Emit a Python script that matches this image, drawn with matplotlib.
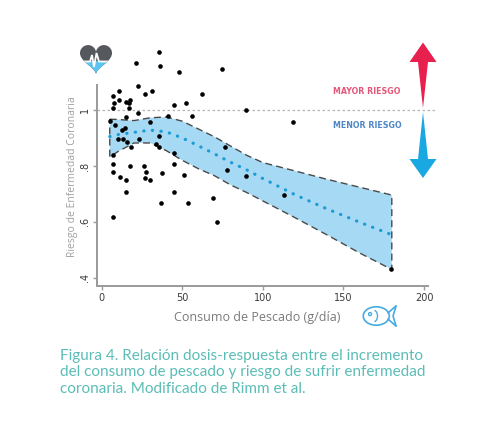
import numpy as np
import matplotlib
matplotlib.use("Agg")
import matplotlib.pyplot as plt
from matplotlib.patches import Polygon, Ellipse, Circle, Rectangle, Arc

# ---------------- data ----------------
x_points = [35.7, 21.1, 36.2, 47.8, 74.8, 22.5, 10.9, 7.0, 26.9, 31.4, 62.4, 10.7, 7.4, 15.1,
            17.7, 17.0, 7.0, 16.7, 44.7, 52.3, 22.5, 15.1, 41.3, 56.0, 89.5, 118.5, 5.3, 8.1,
            30.0, 12.8, 14.6, 10.1, 15.7, 23.1, 35.7, 18.4, 33.9, 35.7, 7.2, 44.9, 76.7, 7.2,
            17.7, 26.2, 7.0, 27.5, 37.4, 45.0, 11.5, 15.3, 27.0, 30.0, 50.9, 77.5, 89.7, 15.3,
            45.0, 69.0, 37.0, 53.7, 7.2, 71.7, 113.4, 179.5, 13.0]
y_points = [1.207, 1.167, 1.158, 1.137, 1.148, 1.087, 1.067, 1.050, 1.057, 1.068, 1.057, 1.037,
            1.026, 1.029, 1.036, 1.025, 1.006, 1.006, 1.017, 1.026, 0.988, 0.975, 0.978, 0.978,
            0.999, 0.957, 0.961, 0.948, 0.957, 0.929, 0.937, 0.898, 0.887, 0.896, 0.907, 0.869,
            0.877, 0.867, 0.839, 0.848, 0.867, 0.807, 0.798, 0.798, 0.777, 0.777, 0.776, 0.808,
            0.760, 0.748, 0.758, 0.748, 0.767, 0.787, 0.765, 0.707, 0.707, 0.687, 0.668, 0.668,
            0.618, 0.598, 0.696, 0.430, 0.895]

x_curve = [5, 10, 20, 30, 40, 50, 60, 70, 80, 90, 100, 120, 140, 160, 180]
fit = [0.905, 0.912, 0.920, 0.928, 0.922, 0.900, 0.872, 0.843, 0.813, 0.786, 0.755, 0.697, 0.646, 0.599, 0.554]
upper = [0.967, 0.966, 0.962, 0.972, 0.975, 0.960, 0.932, 0.904, 0.871, 0.838, 0.812, 0.782, 0.752, 0.724, 0.696]
lower = [0.832, 0.851, 0.882, 0.882, 0.855, 0.820, 0.790, 0.765, 0.732, 0.705, 0.675, 0.615, 0.553, 0.489, 0.430]

x_ticks = [0, 50, 100, 150, 200]
y_ticks = [0.4, 0.6, 0.8, 1.0]
y_tick_labels = [".4", ".6", ".8", "1"]

W, H = 500, 440
fig = plt.figure(figsize=(5, 4.4), dpi=100)
fig.patch.set_facecolor("white")

def fx(px):
    return px / W

def fy(py):
    return 1 - py / H

# axes placement (pixels)
left_px, right_px, top_px, bot_px = 96.7, 440, 40, 286
ax = fig.add_axes([fx(left_px), fy(bot_px), (right_px - left_px) / W, (bot_px - top_px) / H])
ax.set_xlim(-3.1, 209.9)
ax.set_ylim(0.371, 1.25)
ax.set_facecolor("none")

# band
poly_x = list(x_curve) + list(x_curve[::-1])
poly_y = list(upper) + list(lower[::-1])
ax.fill(poly_x, poly_y, color="#A6D9F3", zorder=1, lw=0)
ax.add_patch(Polygon(np.column_stack([poly_x, poly_y]), closed=True, fill=False,
                     ec="#4a4a4a", lw=1.0, ls=(0, (5, 3)), zorder=2))

# reference line
ax.plot([-3.1, 206.8], [1, 1], color="#b5b5b5", lw=0.9, ls=(0, (2, 2)), zorder=1, clip_on=False)

# fit line
ax.plot(x_curve, fit, color="#1E9BD7", lw=2.3, ls=(0, (0.1, 2.6)),
        dash_capstyle="round", zorder=4)

# scatter
ax.scatter(x_points, y_points, s=11, color="black", zorder=5, clip_on=False, lw=0)

# spines
for s in ["top", "right"]:
    ax.spines[s].set_visible(False)
for s in ["left", "bottom"]:
    ax.spines[s].set_color("#9a9a9a")
    ax.spines[s].set_linewidth(1.4)
ax.spines["left"].set_bounds(0.371, 1.089)
ax.spines["bottom"].set_bounds(-3.1, 202.5)

ax.set_xticks(x_ticks)
ax.set_xticklabels([str(t) for t in x_ticks])
ax.set_yticks(y_ticks)
ax.set_yticklabels(y_tick_labels, rotation=90, va="center")
ax.tick_params(axis="both", colors="#9a9a9a", length=3, width=1.0, labelsize=7,
               labelcolor="#3a3a3a", pad=2)

fig.text(fx(257), fy(317), "Consumo de Pescado (g/día)", ha="center", va="center",
         fontsize=9, color="#7a7a7a", family="Open Sans")
fig.text(fx(72.5), fy(177), "Riesgo de Enfermedad Coronaria", ha="center", va="center",
         rotation=90, fontsize=7.5, color="#a0a0a0", family="Open Sans")

# risk labels
fig.text(fx(367), fy(92), "MAYOR RIESGO", ha="center", va="center", fontsize=5.7,
         color="#E4577A", fontweight="bold", family="DejaVu Sans")
fig.text(fx(367), fy(125.7), "MENOR RIESGO", ha="center", va="center", fontsize=5.7,
         color="#4F86C6", fontweight="bold", family="DejaVu Sans")

# arrows (decoration, figure pixel space)
def pxpoly(pts, color):
    p = Polygon([(fx(a), fy(b)) for a, b in pts], closed=True, transform=fig.transFigure,
                fc=color, ec="none")
    fig.patches.append(p)

cx = 423
pxpoly([(cx, 108), (cx - 5, 62), (cx - 13.5, 62), (cx, 42.5), (cx + 13.5, 62), (cx + 5, 62)], "#E8204E")
pxpoly([(cx, 112), (cx - 5, 159), (cx - 13.5, 159), (cx, 178), (cx + 13.5, 159), (cx + 5, 159)], "#1AA8E2")

# heart icon
hax = fig.add_axes([fx(79), fy(75), 34 / W, 31 / H])
hax.axis("off")
t = np.linspace(0, 2 * np.pi, 300)
hx = 16 * np.sin(t) ** 3
hy = 13 * np.cos(t) - 5 * np.cos(2 * t) - 2 * np.cos(3 * t) - np.cos(4 * t)
hax.set_xlim(-17, 17)
hax.set_ylim(-18, 13)
heart = Polygon(np.column_stack([hx, hy]), closed=True, fc="#55585c", ec="none")
hax.add_patch(heart)
blue = Rectangle((-20, -20), 40, 15.5, fc="#5EC3EE", ec="none")
hax.add_patch(blue)
blue.set_clip_path(heart)
ecg_x = [-17, -6, -4, -2, 0.5, 3, 5, 17]
ecg_y = [-4.5, -4.5, 2, -10, 4, -4.5, -4.5, -4.5]
ln, = hax.plot(ecg_x, ecg_y, color="white", lw=1.3, solid_joinstyle="miter")
ln.set_clip_path(heart)

# fish icon
fax = fig.add_axes([fx(362), fy(330), 36 / W, 28 / H])
fax.axis("off")
fax.set_xlim(-1.3, 1.6)
fax.set_ylim(-1.1, 1.1)
fc = "#45ACE2"
fax.add_patch(Ellipse((-0.15, 0), 2.1, 1.45, fill=False, ec=fc, lw=1.2))
fax.plot([0.8, 1.45, 1.2, 1.45, 0.8], [0.25, 0.8, 0.0, -0.8, -0.25], color=fc, lw=1.2)
fax.add_patch(Circle((-0.65, 0.15), 0.12, fill=False, ec=fc, lw=1.0))
fax.add_patch(Arc((-0.45, 0), 0.8, 1.0, theta1=-70, theta2=70, ec=fc, lw=1.0))

# caption
cap = ("Figura 4. Relación dosis-respuesta entre el incremento\n"
       "del consumo de pescado y riesgo de sufrir enfermedad\n"
       "coronaria. Modificado de Rimm et al.")
fig.text(fx(60), fy(349), cap, ha="left", va="top", fontsize=11, color="#5BBDB6",
         family="Lato", linespacing=1.22)

fig.savefig("out.png", dpi=100, facecolor="white")
